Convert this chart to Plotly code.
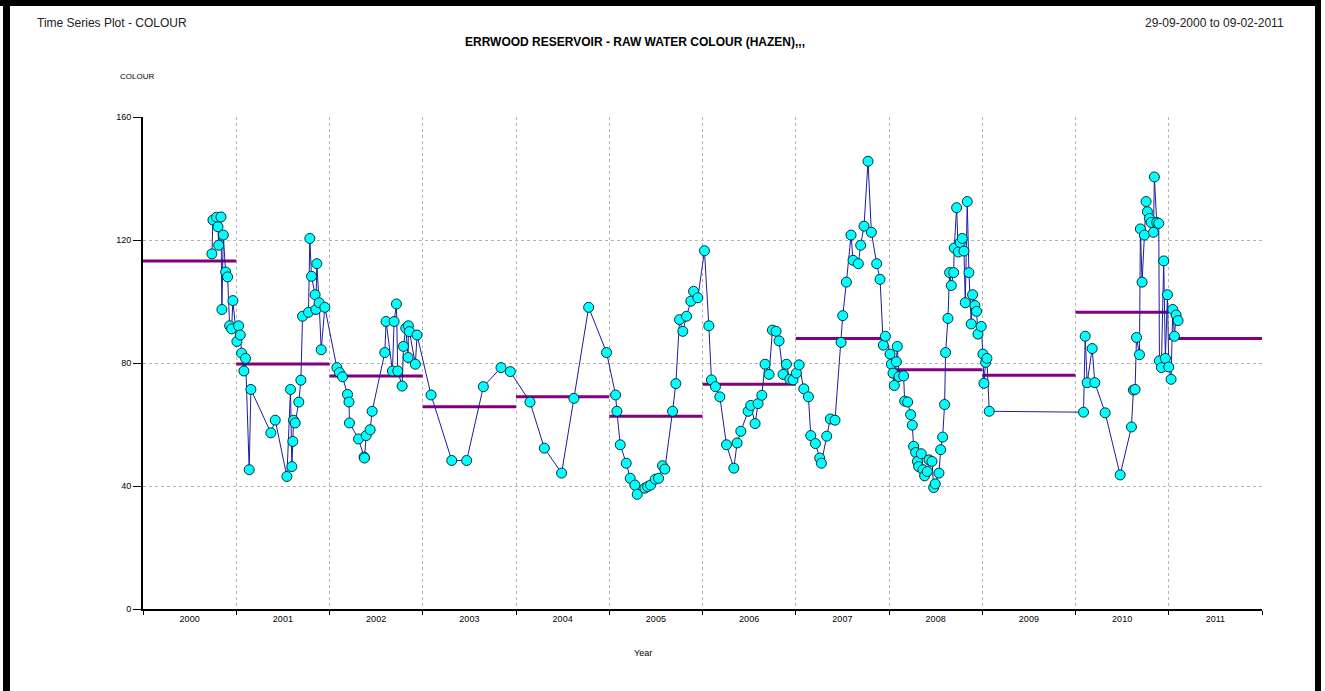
import plotly.graph_objects as go

# ---------------- data ----------------
dates = [
    2000.739, 2000.750, 2000.789, 2000.804, 2000.811, 2000.836, 2000.846, 2000.861, 2000.886, 2000.907,
    2000.929, 2000.950, 2000.964, 2001.007, 2001.025, 2001.043, 2001.057, 2001.082, 2001.100, 2001.139,
    2001.157, 2001.371, 2001.418, 2001.543, 2001.582, 2001.596, 2001.607, 2001.614, 2001.632, 2001.671,
    2001.693, 2001.711, 2001.775, 2001.789, 2001.807, 2001.846, 2001.854, 2001.864, 2001.889, 2001.911,
    2001.950, 2002.079, 2002.107, 2002.139, 2002.193, 2002.209, 2002.214, 2002.311, 2002.371, 2002.375,
    2002.393, 2002.436, 2002.457, 2002.593, 2002.607, 2002.675, 2002.693, 2002.718, 2002.732, 2002.779,
    2002.793, 2002.818, 2002.843, 2002.846, 2002.857, 2002.921, 2002.939, 2003.089, 2003.311, 2003.471,
    2003.650, 2003.839, 2003.939, 2004.150, 2004.304, 2004.489, 2004.621, 2004.779, 2004.971, 2005.068,
    2005.082, 2005.118, 2005.182, 2005.225, 2005.275, 2005.300, 2005.382, 2005.411, 2005.443, 2005.493,
    2005.529, 2005.571, 2005.596, 2005.679, 2005.714, 2005.754, 2005.789, 2005.829, 2005.875, 2005.904,
    2005.950, 2006.021, 2006.068, 2006.096, 2006.139, 2006.186, 2006.257, 2006.336, 2006.371, 2006.411,
    2006.489, 2006.518, 2006.564, 2006.596, 2006.636, 2006.671, 2006.714, 2006.750, 2006.789, 2006.821,
    2006.864, 2006.900, 2006.936, 2006.971, 2007.007, 2007.036, 2007.086, 2007.136, 2007.161, 2007.211,
    2007.257, 2007.275, 2007.332, 2007.371, 2007.421, 2007.486, 2007.504, 2007.543, 2007.593, 2007.614,
    2007.671, 2007.696, 2007.732, 2007.775, 2007.811, 2007.868, 2007.904, 2007.939, 2007.961, 2008.011,
    2008.025, 2008.043, 2008.057, 2008.079, 2008.089, 2008.107, 2008.157, 2008.168, 2008.200, 2008.232,
    2008.250, 2008.264, 2008.286, 2008.304, 2008.318, 2008.346, 2008.364, 2008.382, 2008.411, 2008.429,
    2008.461, 2008.479, 2008.496, 2008.536, 2008.554, 2008.575, 2008.596, 2008.607, 2008.632, 2008.650,
    2008.668, 2008.693, 2008.700, 2008.725, 2008.743, 2008.764, 2008.786, 2008.804, 2008.818, 2008.839,
    2008.857, 2008.882, 2008.896, 2008.921, 2008.939, 2008.954, 2008.989, 2009.007, 2009.018, 2009.036,
    2009.050, 2009.075, 2010.086, 2010.104, 2010.125, 2010.179, 2010.207, 2010.318, 2010.479, 2010.600,
    2010.621, 2010.639, 2010.654, 2010.686, 2010.696, 2010.714, 2010.739, 2010.757, 2010.771, 2010.793,
    2010.811, 2010.836, 2010.846, 2010.871, 2010.893, 2010.900, 2010.921, 2010.946, 2010.964, 2010.986,
    2011.000, 2011.025, 2011.043, 2011.061, 2011.079, 2011.100,
]

colour = [
    115.5, 126.5, 127.4, 124.3, 118.3, 127.5, 97.4, 121.6, 109.6, 108.0,
    92.1, 91.1, 100.3, 87.0, 92.1, 89.1, 83.2, 77.4, 81.5, 45.3,
    71.4, 57.3, 61.4, 43.1, 71.4, 46.3, 54.5, 61.4, 60.5, 67.3,
    74.4, 95.2, 96.5, 120.5, 108.2, 102.2, 97.4, 112.3, 99.6, 84.3,
    98.1, 78.5, 76.9, 75.5, 69.8, 67.3, 60.5, 55.3, 49.4, 49.1,
    56.4, 58.3, 64.3, 83.4, 93.5, 77.4, 93.5, 99.2, 77.4, 72.5,
    85.4, 91.3, 81.8, 92.1, 90.2, 79.6, 89.1, 69.6, 48.3, 48.3,
    72.3, 78.5, 77.2, 67.3, 52.3, 44.2, 68.5, 98.1, 83.4, 69.6,
    64.3, 53.4, 47.4, 42.5, 40.3, 37.3, 39.3, 39.8, 40.3, 42.2,
    42.5, 46.6, 45.5, 64.3, 73.3, 94.1, 90.3, 95.2, 100.1, 103.3,
    101.2, 116.5, 92.1, 74.5, 72.3, 69.0, 53.4, 45.8, 54.0, 57.8,
    64.3, 66.2, 60.3, 66.8, 69.5, 79.6, 76.3, 90.7, 90.3, 87.2,
    76.3, 79.6, 74.7, 74.5, 76.7, 79.4, 71.6, 69.0, 56.4, 53.8,
    49.1, 47.4, 56.2, 61.8, 61.4, 86.7, 95.4, 106.3, 121.6, 113.4,
    112.3, 118.3, 124.5, 145.6, 122.5, 112.3, 107.2, 85.8, 88.7, 82.9,
    79.6, 76.7, 72.7, 80.4, 85.4, 75.6, 75.8, 67.6, 67.3, 63.2,
    59.8, 52.9, 50.9, 48.0, 46.3, 50.5, 45.3, 43.3, 44.7, 48.5,
    48.0, 39.5, 40.7, 44.2, 51.8, 55.9, 66.5, 83.4, 94.5, 109.4,
    105.2, 109.4, 117.4, 130.5, 116.1, 119.2, 120.5, 116.4, 99.6, 132.5,
    109.4, 92.7, 102.2, 98.7, 96.8, 89.4, 91.9, 82.9, 73.4, 80.2,
    81.5, 64.3, 64.0, 88.7, 73.6, 84.7, 73.6, 63.8, 43.6, 59.2,
    71.2, 71.4, 88.3, 82.7, 123.6, 106.3, 121.6, 132.5, 129.2, 127.0,
    125.7, 122.5, 140.5, 125.7, 125.4, 80.7, 78.5, 113.2, 81.5, 102.2,
    78.7, 74.7, 97.4, 88.7, 95.6, 93.8,
]

years = [2000, 2001, 2002, 2003, 2004, 2005, 2006, 2007, 2008, 2009, 2010, 2011]
year_means = [113.2, 79.7, 75.8, 65.8, 69.0, 62.7, 73.1, 88.0, 77.8, 76.0, 96.5, 88.0]
year_labels = [str(y) for y in years]
y_ticks = [0, 40, 80, 120, 160]

# ---------------- layout geometry ----------------
W, H = 1325, 691
L, R, T, B = 143, 1262, 117, 609


def px(x):
    return (x - L) / (R - L)


def py(y):
    return (B - y) / (B - T)


FONT = "Liberation Sans, Arial, sans-serif"

# mean lines per year (one segment per year)
mean_x, mean_y = [], []
for yr, m in zip(years, year_means):
    mean_x += [yr, yr + 1, None]
    mean_y += [m, m, None]

fig = go.Figure()
fig.add_trace(go.Scatter(
    x=mean_x, y=mean_y, mode="lines",
    line=dict(color="#800080", width=3),
    hoverinfo="skip", showlegend=False,
))
fig.add_trace(go.Scatter(
    x=dates, y=colour, mode="lines+markers",
    line=dict(color="#1c1ca0", width=1),
    marker=dict(color="#00ffff", size=10, line=dict(color="#003333", width=1)),
    showlegend=False,
))

grid = dict(showgrid=True, gridcolor="#b4b4b4", gridwidth=1, griddash="3px,3px")

fig.update_xaxes(
    range=[2000, 2012], tickmode="array",
    tickvals=[y + 0.5 for y in years], ticktext=year_labels,
    ticks="", showgrid=False, zeroline=False,
    showline=True, linecolor="black", linewidth=2,
    tickfont=dict(family=FONT, size=9, color="black"),
    minor=dict(tick0=2000, dtick=1, ticks="outside", ticklen=4, tickcolor="black",
               tickwidth=1, **grid),
)
fig.update_yaxes(
    range=[0, 160], tickmode="array", tickvals=y_ticks,
    ticks="outside", ticklen=8, tickcolor="black", tickwidth=1,
    zeroline=False, showline=True, linecolor="black", linewidth=2,
    tickfont=dict(family=FONT, size=9, color="black"),
    **grid,
)

annotations = [
    dict(text="Time Series Plot - COLOUR", x=px(35), y=py(23), xanchor="left", yanchor="middle",
         font=dict(family=FONT, size=12, color="#222")),
    dict(text="29-09-2000 to 09-02-2011", x=px(1286), y=py(23), xanchor="right", yanchor="middle",
         font=dict(family=FONT, size=12, color="#222")),
    dict(text="<b>ERRWOOD RESERVOIR - RAW WATER COLOUR (HAZEN),,,</b>", x=px(635), y=py(42),
         xanchor="center", yanchor="middle", font=dict(family=FONT, size=12, color="black")),
    dict(text="COLOUR", x=px(137), y=py(76), xanchor="center", yanchor="middle",
         font=dict(family=FONT, size=8, color="black")),
    dict(text="Year", x=px(643), y=py(653), xanchor="center", yanchor="middle",
         font=dict(family=FONT, size=9, color="black")),
]
for a in annotations:
    a.update(xref="paper", yref="paper", showarrow=False)

shapes = [
    dict(type="rect", x0=px(3), x1=px(10), y0=py(0), y1=py(H), fillcolor="black", line_width=0),
    dict(type="rect", x0=px(0), x1=px(1321), y0=py(0), y1=py(6), fillcolor="black", line_width=0),
    dict(type="rect", x0=px(1315), x1=px(1321), y0=py(0), y1=py(H), fillcolor="black", line_width=0),
]
for s in shapes:
    s.update(xref="paper", yref="paper", layer="above")

fig.update_layout(
    width=W, height=H,
    margin=dict(l=L, r=W - R, t=T, b=H - B, pad=0),
    plot_bgcolor="white", paper_bgcolor="white",
    annotations=annotations, shapes=shapes,
    font=dict(family=FONT, color="black"),
)

fig.write_html("out.html",
               config={"displayModeBar": False},
               post_script="document.body.style.margin='0';document.body.style.overflow='hidden';")
